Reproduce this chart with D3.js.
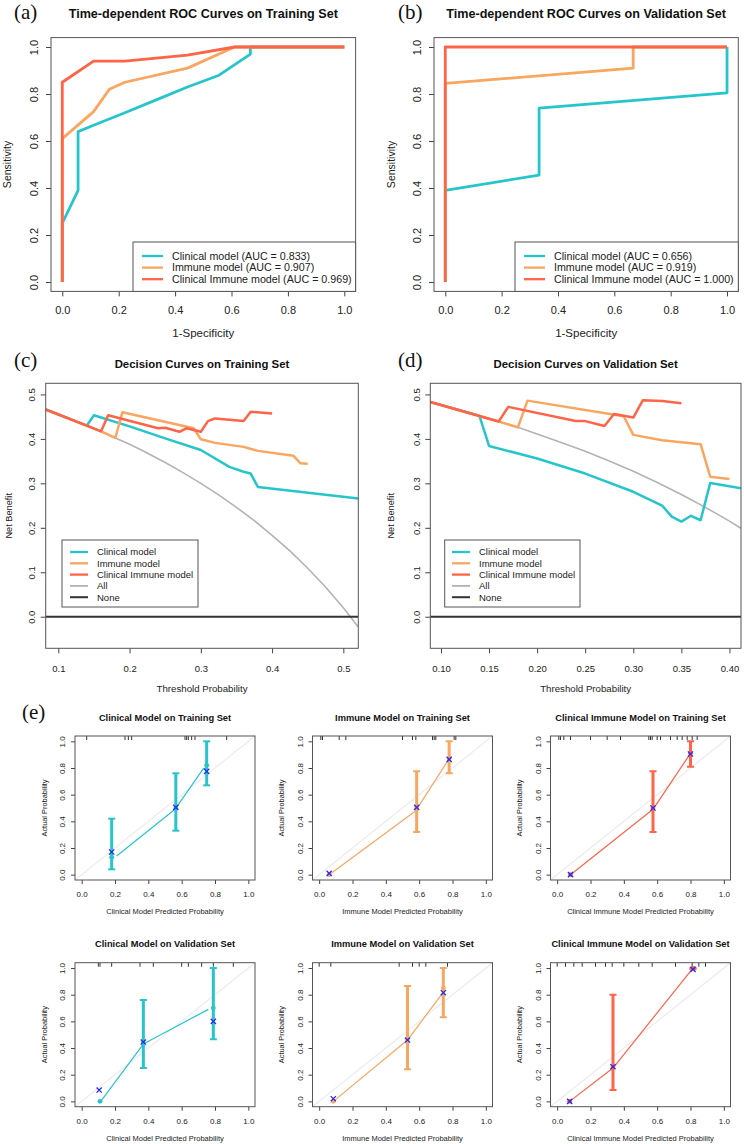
<!DOCTYPE html>
<html>
<head>
<meta charset="utf-8">
<script src="https://cdn.jsdelivr.net/npm/d3@7"></script>
<style>
  body { margin: 0; background: #fff; }
</style>
</head>
<body>
<svg id="fig" width="744" height="1144"></svg>
<script>
// ---- data ----
var modelNames = ["Clinical model", "Immune model", "Clinical Immune model"];
var modelColors = ["#27c5cb", "#f8a660", "#fd6448"];
var aucTrain = ["0.833", "0.907", "0.969"];
var aucValid = ["0.656", "0.919", "1.000"];
var unitTicks = [0, 0.2, 0.4, 0.6, 0.8, 1.0];

// ROC curves: [1-specificity, sensitivity]
var rocTrainClinical = [[0, 0], [0, 0.25], [0.056, 0.39], [0.056, 0.64], [0.111, 0.667], [0.222, 0.72], [0.333, 0.775], [0.444, 0.83], [0.556, 0.88], [0.667, 0.97], [0.667, 1], [1, 1]];
var rocTrainImmune = [[0, 0], [0, 0.61], [0.111, 0.725], [0.167, 0.82], [0.222, 0.85], [0.444, 0.91], [0.611, 1], [1, 1]];
var rocTrainCombined = [[0, 0], [0, 0.85], [0.111, 0.94], [0.222, 0.94], [0.444, 0.965], [0.611, 1], [1, 1]];
var rocValidClinical = [[0, 0], [0, 0.39], [0.333, 0.455], [0.333, 0.74], [1, 0.805], [1, 1]];
var rocValidImmune = [[0, 0], [0, 0.845], [0.667, 0.91], [0.667, 1], [1, 1]];
var rocValidCombined = [[0, 0], [0, 1], [1, 1]];

// decision curves: [threshold, net benefit]
var dcaTrainTicks = [0.1, 0.2, 0.3, 0.4, 0.5];
var dcaValidTicks = [0.10, 0.15, 0.20, 0.25, 0.30, 0.35, 0.40];
var dcaYTicks = [0, 0.1, 0.2, 0.3, 0.4, 0.5];
var dcaTrainAll = [[0.0823, 0.466], [0.10, 0.456], [0.12, 0.443], [0.14, 0.430], [0.16, 0.417], [0.18, 0.402], [0.20, 0.388], [0.22, 0.372], [0.25, 0.347], [0.275, 0.324], [0.30, 0.300], [0.325, 0.274], [0.35, 0.246], [0.375, 0.216], [0.40, 0.183], [0.425, 0.148], [0.45, 0.109], [0.475, 0.067], [0.50, 0.020], [0.521, -0.023]];
var dcaTrainClinical = [[0.0823, 0.466], [0.14, 0.430], [0.15, 0.453], [0.20, 0.428], [0.25, 0.401], [0.30, 0.375], [0.34, 0.337], [0.36, 0.326], [0.37, 0.322], [0.38, 0.292], [0.521, 0.266]];
var dcaTrainImmune = [[0.0823, 0.466], [0.16, 0.417], [0.18, 0.402], [0.19, 0.460], [0.29, 0.424], [0.30, 0.399], [0.32, 0.391], [0.36, 0.382], [0.38, 0.373], [0.43, 0.362], [0.44, 0.345], [0.45, 0.344]];
var dcaTrainCombined = [[0.0823, 0.466], [0.14, 0.430], [0.16, 0.417], [0.17, 0.453], [0.24, 0.424], [0.25, 0.425], [0.27, 0.416], [0.28, 0.424], [0.30, 0.416], [0.31, 0.440], [0.32, 0.446], [0.36, 0.440], [0.37, 0.461], [0.40, 0.457]];
var dcaValidAll = [[0.0889, 0.483], [0.10, 0.477], [0.12, 0.465], [0.14, 0.452], [0.16, 0.439], [0.18, 0.426], [0.20, 0.411], [0.225, 0.392], [0.25, 0.372], [0.275, 0.350], [0.30, 0.327], [0.325, 0.302], [0.35, 0.275], [0.375, 0.246], [0.40, 0.215], [0.412, 0.199]];
var dcaValidClinical = [[0.0889, 0.483], [0.14, 0.452], [0.15, 0.384], [0.20, 0.356], [0.25, 0.322], [0.30, 0.281], [0.33, 0.250], [0.34, 0.225], [0.35, 0.214], [0.36, 0.227], [0.37, 0.217], [0.38, 0.301], [0.412, 0.289]];
var dcaValidImmune = [[0.0889, 0.483], [0.16, 0.439], [0.18, 0.426], [0.19, 0.486], [0.29, 0.451], [0.30, 0.409], [0.33, 0.397], [0.37, 0.388], [0.38, 0.315], [0.40, 0.310]];
var dcaValidCombined = [[0.0889, 0.483], [0.16, 0.439], [0.17, 0.472], [0.24, 0.440], [0.25, 0.440], [0.27, 0.429], [0.28, 0.456], [0.30, 0.448], [0.31, 0.487], [0.33, 0.485], [0.35, 0.480]];

// calibration plots: rug (predicted values), bars [x, lo, hi], dots/crosses [x, y], line [x, y]
var calTrainClinRug = [0.03, 0.26, 0.28, 0.30, 0.62, 0.63, 0.64, 0.66, 0.68, 0.87];
var calTrainClinBars = [[0.18, 0.04, 0.42], [0.565, 0.33, 0.76], [0.75, 0.67, 1.0]];
var calTrainClinDots = [[0.18, 0.13], [0.565, 0.50], [0.75, 0.82]];
var calTrainClinCross = [[0.18, 0.17], [0.565, 0.505], [0.75, 0.775]];
var calTrainClinLine = [[0.21, 0.14], [0.56, 0.49], [0.73, 0.795], [0.75, 0.80]];

var calTrainImmRug = [0.01, 0.02, 0.12, 0.16, 0.50, 0.56, 0.58, 0.68, 0.69, 0.70, 0.81, 0.82];
var calTrainImmBars = [[0.585, 0.32, 0.775], [0.78, 0.76, 1.0]];
var calTrainImmDots = [[0.06, 0.0], [0.585, 0.50], [0.78, 0.87]];
var calTrainImmCross = [[0.06, 0.01], [0.585, 0.505], [0.78, 0.865]];
var calTrainImmLine = [[0.06, 0.0], [0.58, 0.48], [0.78, 0.87]];

var calTrainCombRug = [0.01, 0.02, 0.04, 0.08, 0.20, 0.30, 0.38, 0.55, 0.56, 0.57, 0.60, 0.62, 0.68, 0.72, 0.75, 0.78, 0.81, 0.84];
var calTrainCombBars = [[0.575, 0.32, 0.775], [0.80, 0.81, 1.0]];
var calTrainCombDots = [[0.08, 0.0], [0.575, 0.50], [0.80, 0.91]];
var calTrainCombCross = [[0.08, 0.0], [0.575, 0.50], [0.80, 0.905]];
var calTrainCombLine = [[0.08, 0.0], [0.575, 0.49], [0.80, 0.91]];

var calValidClinRug = [0.10, 0.11, 0.18, 0.35, 0.43, 0.60, 0.64, 0.72, 0.79, 0.91];
var calValidClinBars = [[0.37, 0.25, 0.76], [0.79, 0.465, 1.0]];
var calValidClinDots = [[0.11, 0.0], [0.37, 0.44], [0.79, 0.70]];
var calValidClinCross = [[0.105, 0.085], [0.37, 0.445], [0.79, 0.60]];
var calValidClinLine = [[0.12, 0.01], [0.37, 0.43], [0.76, 0.69]];

var calValidImmRug = [0.0, 0.07, 0.48, 0.56, 0.60, 0.64, 0.77];
var calValidImmBars = [[0.53, 0.24, 0.865], [0.745, 0.63, 1.0]];
var calValidImmDots = [[0.085, 0.0], [0.53, 0.46], [0.745, 0.85]];
var calValidImmCross = [[0.085, 0.02], [0.53, 0.46], [0.745, 0.815]];
var calValidImmLine = [[0.085, 0.0], [0.53, 0.46], [0.745, 0.82]];

var calValidCombRug = [0.0, 0.05, 0.10, 0.15, 0.23, 0.29, 0.33, 0.40, 0.49, 0.57, 0.71, 0.81, 0.85, 0.89];
var calValidCombBars = [[0.335, 0.085, 0.80], [0.815, 0.99, 1.0]];
var calValidCombDots = [[0.075, 0.0], [0.335, 0.26], [0.815, 1.0]];
var calValidCombCross = [[0.075, 0.0], [0.335, 0.26], [0.815, 0.99]];
var calValidCombLine = [[0.075, 0.0], [0.335, 0.25], [0.815, 1.0]];

// ---- drawing ----
var FONT = '"Liberation Sans", Arial, Helvetica, sans-serif';
var svg = d3.select("#fig");
var clipN = 0;

function frame(c) {
  var x = d3.scaleLinear().domain(c.xd).range([c.l, c.r]);
  var y = d3.scaleLinear().domain(c.yd).range([c.b, c.t]);
  var g = svg.append("g");

  var xa = g.append("g")
      .attr("transform", "translate(0," + c.b + ")")
      .call(d3.axisBottom(x).tickValues(c.xt).tickFormat(d3.format(c.xfmt)).tickSize(c.tk));
  xa.attr("font-family", FONT).attr("font-size", c.tfs);
  xa.select(".domain").remove();
  xa.selectAll("line").attr("stroke", "#444");
  xa.selectAll("text").attr("y", c.xly).attr("dy", null).attr("fill", "#222");

  var ya = g.append("g")
      .attr("transform", "translate(" + c.l + ",0)")
      .call(d3.axisLeft(y).tickValues(c.yt).tickFormat(d3.format(c.yfmt)).tickSize(c.tk));
  ya.attr("font-family", FONT).attr("font-size", c.tfs);
  ya.select(".domain").remove();
  ya.selectAll("line").attr("stroke", "#444");
  ya.selectAll("text")
      .attr("x", null).attr("dy", null)
      .attr("text-anchor", "middle").attr("fill", "#222")
      .attr("transform", "translate(" + (-c.ylx) + ",0) rotate(-90)");

  var id = "clip" + (clipN++);
  g.append("clipPath").attr("id", id)
    .append("rect").attr("x", c.l).attr("y", c.t).attr("width", c.r - c.l).attr("height", c.b - c.t);
  var plot = g.append("g").attr("clip-path", "url(#" + id + ")");

  g.append("text")
      .attr("x", (c.l + c.r) / 2).attr("y", c.t - c.tty)
      .attr("text-anchor", "middle").attr("font-family", FONT)
      .attr("font-weight", "bold").attr("font-size", c.tifs)
      .attr("fill", "#111").text(c.title);
  g.append("text")
      .attr("x", (c.l + c.r) / 2).attr("y", c.b + c.xlby)
      .attr("text-anchor", "middle").attr("font-family", FONT)
      .attr("font-size", c.lfs).attr("fill", "#222").text(c.xlab);
  g.append("text")
      .attr("transform", "translate(" + (c.l - c.ylbx) + "," + ((c.t + c.b) / 2) + ") rotate(-90)")
      .attr("text-anchor", "middle").attr("font-family", FONT)
      .attr("font-size", c.ylfs || c.lfs).attr("fill", "#222").text(c.ylab);

  var box = g.append("rect")
      .attr("x", c.l).attr("y", c.t).attr("width", c.r - c.l).attr("height", c.b - c.t)
      .attr("fill", "none").attr("stroke", "#555").attr("stroke-width", 1);
  return {x: x, y: y, g: g, plot: plot, box: box};
}

function path(f, data, color, w) {
  var line = d3.line().x(function(d) { return f.x(d[0]); }).y(function(d) { return f.y(d[1]); });
  f.plot.append("path").datum(data)
      .attr("d", line).attr("fill", "none")
      .attr("stroke", color).attr("stroke-width", w)
      .attr("stroke-linejoin", "round").attr("stroke-linecap", "butt");
}

function legend(lg) {
  var g = svg.append("g");
  g.append("rect").attr("x", lg.x0).attr("y", lg.y0)
      .attr("width", lg.x1 - lg.x0).attr("height", lg.y1 - lg.y0)
      .attr("fill", "#fff").attr("stroke", "#555").attr("stroke-width", 1);
  var row = g.selectAll(".row").data(lg.items).enter().append("g")
      .attr("transform", function(d, i) { return "translate(0," + (lg.ry + i * lg.dy) + ")"; });
  row.append("line").attr("x1", lg.lx0).attr("x2", lg.lx1)
      .attr("stroke", function(d) { return d.color; })
      .attr("stroke-width", function(d) { return d.w; });
  row.append("text").attr("x", lg.tx).attr("dy", "0.35em")
      .attr("font-family", FONT).attr("font-size", lg.fs).attr("fill", "#222")
      .text(function(d) { return d.label; });
}

function tag(label, x, y, fs) {
  svg.append("text").attr("x", x).attr("y", y)
      .attr("font-family", '"Liberation Serif", "Times New Roman", serif')
      .attr("font-size", fs).attr("fill", "#111").text(label);
}

// ROC panels
var rocBase = {xd: [-0.04, 1.04], yd: [-0.04, 1.04], xt: unitTicks, yt: unitTicks, xfmt: ".1f", yfmt: ".1f",
  tk: 5, tfs: 11, xly: 23, ylx: 13, tifs: 12.6, tty: 19.5, lfs: 11.5, xlby: 45.5, ylbx: 40, ylfs: 10.5,
  t: 37.6, b: 291.4, xlab: "1-Specificity", ylab: "Sensitivity"};

var fa = frame(Object.assign({}, rocBase, {l: 51, r: 355.6, title: "Time-dependent ROC Curves on Training Set"}));
[rocTrainClinical, rocTrainImmune, rocTrainCombined].forEach(function(d, i) { path(fa, d, modelColors[i], 2.8); });
legend({x0: 133, x1: 355.6, y0: 242, y1: 291.4, ry: 256, dy: 11.6, lx0: 142, lx1: 163, tx: 172, fs: 10.7,
  items: modelNames.map(function(n, i) { return {label: n + " (AUC = " + aucTrain[i] + ")", color: modelColors[i], w: 2.3}; })});
tag("(a)", 14, 19, 21);

var fb = frame(Object.assign({}, rocBase, {l: 434, r: 738.3, ylbx: 39, title: "Time-dependent ROC Curves on Validation Set"}));
[rocValidClinical, rocValidImmune, rocValidCombined].forEach(function(d, i) { path(fb, d, modelColors[i], 2.8); });
legend({x0: 515, x1: 738.3, y0: 242, y1: 291.4, ry: 256, dy: 11.6, lx0: 524, lx1: 545, tx: 554, fs: 10.7,
  items: modelNames.map(function(n, i) { return {label: n + " (AUC = " + aucValid[i] + ")", color: modelColors[i], w: 2.3}; })});
tag("(b)", 398, 19, 21);

// decision curve panels
var dcaBase = {yd: [-0.071, 0.525], yt: dcaYTicks, yfmt: ".1f", t: 383.3, b: 648.3,
  tk: 5, tfs: 9.5, xly: 23.5, ylx: 10.5, tifs: 11.4, tty: 15.5, lfs: 9.7, xlby: 43.5, ylbx: 34, ylfs: 9.2,
  xlab: "Threshold Probability", ylab: "Net Benefit"};
var dcaItems = modelNames.map(function(n, i) { return {label: n, color: modelColors[i], w: 2.3}; })
  .concat([{label: "All", color: "#b3b3b3", w: 1.8}, {label: "None", color: "#333", w: 2}]);

function dcaPanel(f, all, curves, xd) {
  path(f, all, "#b3b3b3", 1.6);
  f.plot.append("line").attr("x1", f.x(xd[0])).attr("x2", f.x(xd[1]))
      .attr("y1", f.y(0)).attr("y2", f.y(0)).attr("stroke", "#333").attr("stroke-width", 2);
  curves.forEach(function(d, i) { path(f, d, modelColors[i], 2.5); });
}

var fcXd = [0.0823, 0.521];
var fc = frame(Object.assign({}, dcaBase, {l: 45.7, r: 358.3, xd: fcXd, xt: dcaTrainTicks, xfmt: ".1f",
  title: "Decision  Curves on Training Set"}));
dcaPanel(fc, dcaTrainAll, [dcaTrainClinical, dcaTrainImmune, dcaTrainCombined], fcXd);
legend({x0: 62, x1: 198, y0: 540, y1: 607, ry: 552, dy: 11.3, lx0: 70, lx1: 88, tx: 97, fs: 9.5, items: dcaItems});
tag("(c)", 14, 367, 21);

var fdXd = [0.0889, 0.412];
var fd = frame(Object.assign({}, dcaBase, {l: 430.3, r: 741, xd: fdXd, xt: dcaValidTicks, xfmt: ".2f", ylbx: 36,
  title: "Decision  Curves on Validation Set"}));
dcaPanel(fd, dcaValidAll, [dcaValidClinical, dcaValidImmune, dcaValidCombined], fdXd);
legend({x0: 444.7, x1: 580, y0: 540, y1: 607, ry: 552, dy: 11.3, lx0: 452, lx1: 470, tx: 479, fs: 9.5, items: dcaItems});
tag("(d)", 398, 367, 21);

// calibration panels
var calCols = [75, 312.5, 550.5];
var calRows = [736, 962.7];
var calBase = {xd: [-0.04, 1.04], yd: [-0.04, 1.04], xt: unitTicks, yt: unitTicks, xfmt: ".1f", yfmt: ".1f",
  tk: 4, tfs: 8, xly: 17, ylx: 10, tifs: 9.3, tty: 15.5, lfs: 7.5, xlby: 34, ylbx: 28.5, ylfs: 7.4,
  ylab: "Actual Probability"};

function calPanel(col, row, title, xlab, color, rug, bars, dots, cross, line) {
  var f = frame(Object.assign({}, calBase, {l: calCols[col], r: calCols[col] + 180,
    t: calRows[row], b: calRows[row] + 144, title: title, xlab: xlab}));
  f.plot.append("line")
      .attr("x1", f.x(-0.04)).attr("y1", f.y(-0.04)).attr("x2", f.x(1.04)).attr("y2", f.y(1.04))
      .attr("stroke", "#ebebeb").attr("stroke-width", 1.2);
  f.plot.selectAll(".rug").data(rug).enter().append("line")
      .attr("x1", function(d) { return f.x(d); }).attr("x2", function(d) { return f.x(d); })
      .attr("y1", f.y(1.04)).attr("y2", f.y(1.04) + 4)
      .attr("stroke", "#333").attr("stroke-width", 1);
  path(f, line, color, 1.2);
  var eb = f.plot.selectAll(".bar").data(bars).enter().append("g");
  eb.append("line")
      .attr("x1", function(d) { return f.x(d[0]); }).attr("x2", function(d) { return f.x(d[0]); })
      .attr("y1", function(d) { return f.y(d[1]); }).attr("y2", function(d) { return f.y(d[2]); })
      .attr("stroke", color).attr("stroke-width", 3);
  [1, 2].forEach(function(k) {
    eb.append("line")
        .attr("x1", function(d) { return f.x(d[0]) - 3.5; }).attr("x2", function(d) { return f.x(d[0]) + 3.5; })
        .attr("y1", function(d) { return f.y(d[k]); }).attr("y2", function(d) { return f.y(d[k]); })
        .attr("stroke", color).attr("stroke-width", 2);
  });
  f.plot.selectAll(".dot").data(dots).enter().append("circle")
      .attr("cx", function(d) { return f.x(d[0]); }).attr("cy", function(d) { return f.y(d[1]); })
      .attr("r", 2.4).attr("fill", color);
  f.plot.selectAll(".cross").data(cross).enter().append("path")
      .attr("transform", function(d) { return "translate(" + f.x(d[0]) + "," + f.y(d[1]) + ")"; })
      .attr("d", "M-2.6,-2.6L2.6,2.6M-2.6,2.6L2.6,-2.6")
      .attr("stroke", "#2a2af0").attr("stroke-width", 1.3);
  f.box.raise();
  return f;
}

calPanel(0, 0, "Clinical Model on Training Set", "Clinical Model Predicted Probability", modelColors[0],
  calTrainClinRug, calTrainClinBars, calTrainClinDots, calTrainClinCross, calTrainClinLine);
calPanel(1, 0, "Immune Model on Training Set", "Immune Model Predicted Probability", modelColors[1],
  calTrainImmRug, calTrainImmBars, calTrainImmDots, calTrainImmCross, calTrainImmLine);
calPanel(2, 0, "Clinical Immune Model on Training Set", "Clinical Immune Model Predicted Probability", modelColors[2],
  calTrainCombRug, calTrainCombBars, calTrainCombDots, calTrainCombCross, calTrainCombLine);
calPanel(0, 1, "Clinical Model on Validation Set", "Clinical Model Predicted Probability", modelColors[0],
  calValidClinRug, calValidClinBars, calValidClinDots, calValidClinCross, calValidClinLine);
calPanel(1, 1, "Immune Model on Validation Set", "Immune Model Predicted Probability", modelColors[1],
  calValidImmRug, calValidImmBars, calValidImmDots, calValidImmCross, calValidImmLine);
calPanel(2, 1, "Clinical Immune Model on Validation Set", "Clinical Immune Model Predicted Probability", modelColors[2],
  calValidCombRug, calValidCombBars, calValidCombDots, calValidCombCross, calValidCombLine);
tag("(e)", 22, 719, 21);
</script>
</body>
</html>
